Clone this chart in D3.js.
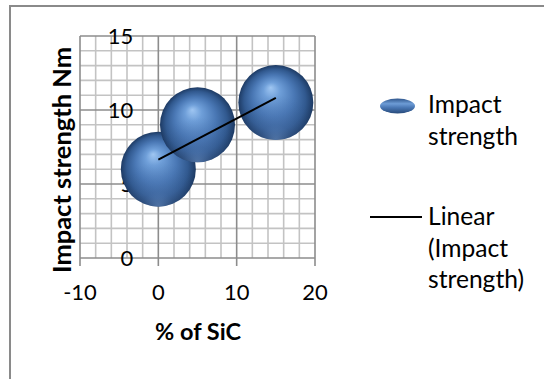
<!DOCTYPE html>
<html>
<head>
<meta charset="utf-8">
<script src="https://cdn.jsdelivr.net/npm/d3@7"></script>
<style>
  html, body { margin: 0; padding: 0; background: #fff; }
  svg { display: block; }
  text { font-family: Lato, "Open Sans", sans-serif; fill: #000; }
</style>
</head>
<body>
<svg id="chart" width="544" height="379"></svg>
<script>
// ---- data ----
const sicPercent = [0, 5, 15];
const impactStrength = [6, 9, 10.5];
const bubbleSize = [1, 1, 1];
const xTicks = [-10, 0, 10, 20];
const yTicks = [0, 5, 10, 15];
const seriesName = "Impact strength";
const trendName = ["Linear", "(Impact", "strength)"];
const xTitle = "% of SiC";
const yTitle = "Impact strength Nm";

const svg = d3.select("#chart");

// outer chart border
svg.append("rect").attr("x", 10).attr("y", 6).attr("width", 600).attr("height", 420)
  .attr("fill", "#fff").attr("stroke", "#8a8a8a").attr("stroke-width", 2);

const x = d3.scaleLinear().domain([-10, 20]).range([80, 315]);
const y = d3.scaleLinear().domain([0, 15]).range([258, 36]);
const r = d3.scaleSqrt().domain([0, d3.max(bubbleSize)]).range([0, 37.5]);

function fit(sel, target) {
  const node = sel.node();
  const fs = parseFloat(sel.attr("font-size"));
  const len = node.getComputedTextLength();
  sel.attr("font-size", fs * target / len);
  return fs * target / len;
}

// grid
const g = svg.append("g");
d3.range(-10, 20.001, 2).forEach(v => {
  const major = Math.abs(v % 10) < 1e-9;
  if (!major) g.append("line").attr("x1", x(v)).attr("x2", x(v)).attr("y1", y(0)).attr("y2", y(15))
    .attr("stroke", "#c3c3c3").attr("stroke-width", 1.6);
});
d3.range(0, 15.001, 1).forEach(v => {
  const major = v % 5 === 0;
  if (!major) g.append("line").attr("y1", y(v)).attr("y2", y(v)).attr("x1", x(-10)).attr("x2", x(20))
    .attr("stroke", "#c3c3c3").attr("stroke-width", 1.6);
});
yTicks.forEach(v => {
  g.append("line").attr("y1", y(v)).attr("y2", y(v)).attr("x1", x(-10)).attr("x2", x(20))
    .attr("stroke", "#8c8c8c").attr("stroke-width", 1.6);
});
xTicks.forEach(v => {
  g.append("line").attr("x1", x(v)).attr("x2", x(v)).attr("y1", y(0)).attr("y2", y(15) )
    .attr("stroke", "#8c8c8c").attr("stroke-width", 1.6);
  g.append("line").attr("x1", x(v)).attr("x2", x(v)).attr("y1", y(0)).attr("y2", y(0) + 8)
    .attr("stroke", "#8c8c8c").attr("stroke-width", 1.6);
});

// tick labels
const probe = svg.append("text").attr("font-size", 20).text("10");
const tickFs = fit(probe, 25.5);
probe.remove();
svg.append("g").selectAll("text").data(xTicks).join("text")
  .attr("x", d => x(d)).attr("y", 300).attr("text-anchor", "middle")
  .attr("font-size", tickFs).text(d => d);
svg.append("g").selectAll("text").data(yTicks).join("text")
  .attr("x", x(0) - 25).attr("y", d => y(d) + 7.5).attr("text-anchor", "end")
  .attr("font-size", tickFs).text(d => d);

// gradient
const defs = svg.append("defs");
const grad = defs.append("radialGradient").attr("id", "ball")
  .attr("cx", "50%").attr("cy", "50%").attr("r", "50%").attr("fx", "43%").attr("fy", "30%");
[[0, "#9fc6f2"], [0.22, "#6f9fd9"], [0.55, "#4a78b5"], [0.82, "#31598f"], [1, "#1d3a63"]]
  .forEach(([o, c]) => grad.append("stop").attr("offset", o).attr("stop-color", c));
const refl = defs.append("radialGradient").attr("id", "refl")
  .attr("cx", "50%").attr("cy", "100%").attr("r", "60%");
[[0, "rgba(120,160,215,0.55)"], [0.35, "rgba(90,130,190,0.25)"], [1, "rgba(60,100,160,0)"]]
  .forEach(([o, c]) => refl.append("stop").attr("offset", o).attr("stop-color", c));
const lgrad = defs.append("linearGradient").attr("id", "legball").attr("x1", 0).attr("y1", 0).attr("x2", 0).attr("y2", 1);
[[0, "#2f568c"], [0.35, "#6d9cd6"], [0.6, "#4a78b5"], [1, "#274a7a"]]
  .forEach(([o, c]) => lgrad.append("stop").attr("offset", o).attr("stop-color", c));

// bubbles
const pts = sicPercent.map((d, i) => ({ x: d, y: impactStrength[i], s: bubbleSize[i] }));
const bg = svg.append("g");
pts.forEach(p => {
  bg.append("circle").attr("cx", x(p.x)).attr("cy", y(p.y)).attr("r", r(p.s)).attr("fill", "url(#ball)");
  bg.append("circle").attr("cx", x(p.x)).attr("cy", y(p.y)).attr("r", r(p.s)).attr("fill", "url(#refl)");
});

// linear trendline (least squares)
const mx = d3.mean(sicPercent), my = d3.mean(impactStrength);
const slope = d3.sum(sicPercent, (d, i) => (d - mx) * (impactStrength[i] - my)) /
              d3.sum(sicPercent, d => (d - mx) ** 2);
const icpt = my - slope * mx;
const xr = d3.extent(sicPercent);
svg.append("line").attr("x1", x(xr[0])).attr("y1", y(icpt + slope * xr[0]))
  .attr("x2", x(xr[1])).attr("y2", y(icpt + slope * xr[1]))
  .attr("stroke", "#000").attr("stroke-width", 2);

// legend
svg.append("ellipse").attr("cx", 397.5).attr("cy", 106).attr("rx", 17.5).attr("ry", 7.5)
  .attr("fill", "url(#legball)");
const l1 = svg.append("text").attr("x", 428).attr("y", 113).attr("font-size", 22).text(seriesName.split(" ")[0]);
const l2 = svg.append("text").attr("x", 428).attr("y", 145).attr("font-size", 22).text(seriesName.split(" ")[1]);
const legFs = fit(l2, 90);
l1.attr("font-size", legFs);
svg.append("line").attr("x1", 370).attr("x2", 422).attr("y1", 217).attr("y2", 217)
  .attr("stroke", "#000").attr("stroke-width", 2);
trendName.forEach((t, i) => {
  svg.append("text").attr("x", 428).attr("y", 225 + i * 31.5).attr("font-size", legFs).text(t);
});

// axis titles
const xt = svg.append("text").attr("x", 198).attr("y", 340).attr("text-anchor", "middle")
  .attr("font-weight", "bold").attr("font-size", 24).text(xTitle);
fit(xt, 86);
const yt = svg.append("text").attr("transform", "translate(71,160) rotate(-90)")
  .attr("text-anchor", "middle").attr("font-weight", "bold").attr("font-size", 26).text(yTitle);
fit(yt, 226);
</script>
</body>
</html>
